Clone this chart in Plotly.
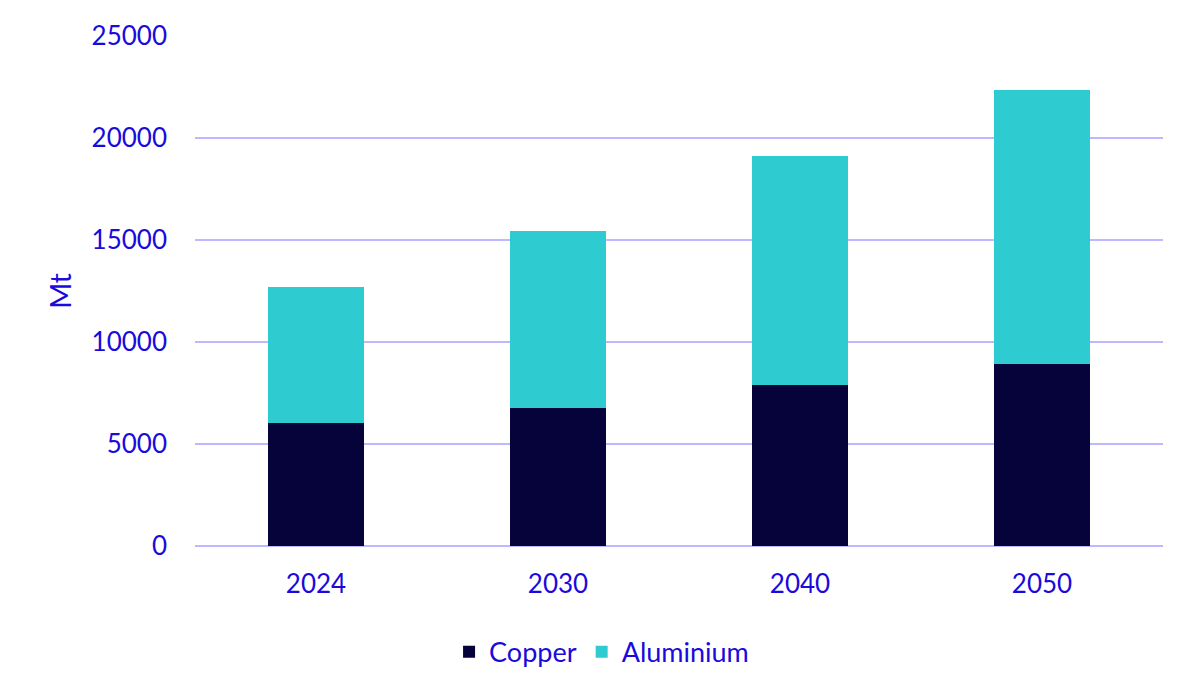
import plotly.graph_objects as go

years = ['2024', '2030', '2040', '2050']
copper = [6030, 6760, 7890, 8920]
aluminium = [6670, 8680, 11230, 13430]

text_blue = '#1a0adb'
grid_col = '#bdb8ff'

fig = go.Figure()

fig.add_trace(go.Bar(x=years, y=copper, name='Copper', marker=dict(color='#06033a', line=dict(width=0))))
fig.add_trace(go.Bar(x=years, y=aluminium, name='Aluminium', marker=dict(color='#2ecbd1', line=dict(width=0))))

# page adds an 8px body margin, so margins are offset to compensate
fig.update_layout(
    barmode='stack',
    bargap=0.6,
    width=1200,
    height=700,
    plot_bgcolor='white',
    paper_bgcolor='white',
    margin=dict(l=187, r=45, t=28, b=162),
    font=dict(family='Lato', size=26, color=text_blue),
    legend=dict(orientation='h', x=0.42, xanchor='center', y=-0.208, yanchor='middle',
                font=dict(size=27, color=text_blue), itemwidth=30, traceorder='normal'),
    showlegend=True,
)

fig.update_yaxes(
    range=[0, 25000],
    dtick=5000,
    showgrid=True,
    gridcolor=grid_col,
    gridwidth=2,
    zeroline=True,
    zerolinecolor=grid_col,
    zerolinewidth=2,
    ticklabelstandoff=27,
    tickformat='d',
    title=dict(text='Mt', font=dict(size=28, color=text_blue), standoff=11),
)

fig.update_xaxes(
    showgrid=False,
    showline=False,
    ticklabelstandoff=20,
)

fig.write_html("out.html")
